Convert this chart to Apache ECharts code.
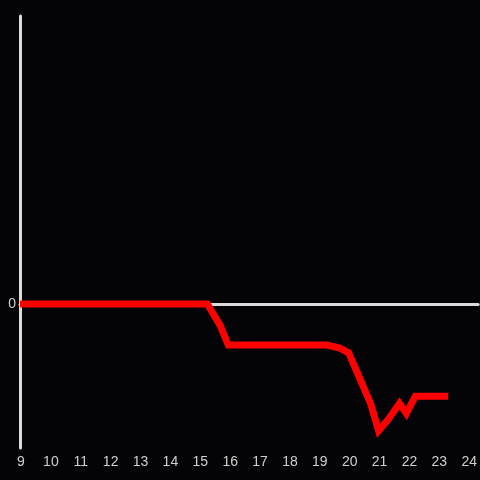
<!DOCTYPE html>
<html>
<head>
    <meta charset="UTF-8">
    <title>Line</title>
    <script src="https://cdn.jsdelivr.net/npm/echarts@6/dist/echarts.min.js"></script>
</head>
<body style="margin:0;overflow:hidden;background:#040306;">
<div id="chart" style="width:480px;height:480px;"></div>
<script type="text/javascript">
    // x positions (hours) and values
    var xs = [9, 15.27, 15.7, 15.97, 19.27, 19.7, 20.0, 20.73, 21.0, 21.33, 21.7, 21.93, 22.23, 23.33];
    var ys = [0, 0, -0.15, -0.285, -0.285, -0.306, -0.34, -0.69, -0.88, -0.8, -0.69, -0.76, -0.64, -0.64];
    var xTicks = [9, 10, 11, 12, 13, 14, 15, 16, 17, 18, 19, 20, 21, 22, 23, 24];

    var points = xs.map(function (x, i) {
        return [x, ys[i]];
    });

    var chart = echarts.init(document.getElementById('chart'));
    var option = {
        backgroundColor: '#040306',
        animation: false,
        grid: {left: 20, right: 0, top: 16, bottom: 32},
        xAxis: [
            {
                type: 'value',
                min: xTicks[0],
                max: 24.333,
                interval: 1,
                axisLine: {onZero: true, lineStyle: {color: '#dcdcdc', width: 3}},
                axisTick: {show: false},
                axisLabel: {show: false},
                splitLine: {show: false}
            },
            {
                type: 'value',
                position: 'bottom',
                min: xTicks[0],
                max: 24.333,
                interval: 1,
                axisLine: {show: false, onZero: false},
                axisTick: {show: false},
                axisLabel: {
                    color: '#d0d0d0',
                    fontSize: 14,
                    margin: 7,
                    padding: [0, 0, 0, 2],
                    fontFamily: 'Liberation Sans',
                    showMaxLabel: false,
                    formatter: function (v) {
                        return xTicks.indexOf(v) >= 0 ? String(v) : '';
                    }
                },
                splitLine: {show: false}
            }
        ],
        yAxis: {
            type: 'value',
            min: -1,
            max: 2,
            interval: 1,
            axisLine: {show: true, lineStyle: {color: '#dcdcdc', width: 3}},
            axisTick: {show: false},
            axisLabel: {
                color: '#d0d0d0',
                fontSize: 14,
                margin: 4,
                padding: [3, 0, 0, 0],
                fontFamily: 'Liberation Sans',
                formatter: function (v) {
                    return v === 0 ? '0' : '';
                }
            },
            splitLine: {show: false}
        },
        series: [{
            type: 'line',
            xAxisIndex: 0,
            data: points,
            symbol: 'none',
            lineStyle: {color: '#ff0000', width: 7, cap: 'butt', join: 'miter'},
            z: 5
        }]
    };
    chart.setOption(option);
</script>
</body>
</html>
